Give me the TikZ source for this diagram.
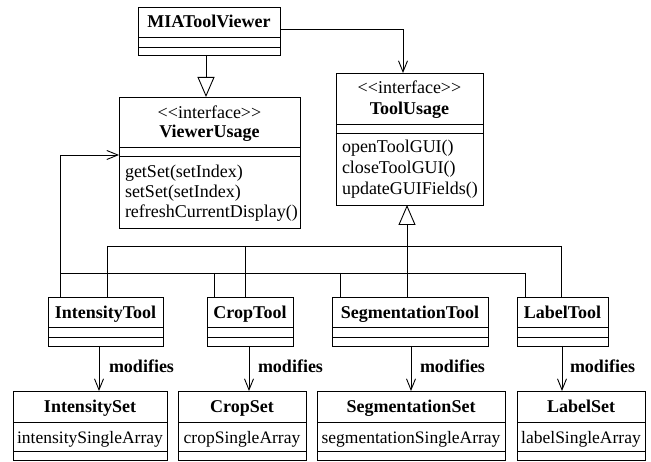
\documentclass[tikz,border=0pt]{standalone}
\usepackage{fontspec}
\setmainfont{Liberation Serif}
\usetikzlibrary{arrows.meta,calc}
\newcommand\classseps[3]{%
  \draw ($(#1.north west)+(0,#2)$) -- ($(#1.north east)+(0,#2)$);
  \draw ($(#1.north west)+(0,#3)$) -- ($(#1.north east)+(0,#3)$);}
\newcommand\stereo{<\kern0pt<interface>\kern0pt>}
\begin{document}
\begin{tikzpicture}[x=1pt,y=-1pt,line width=0.9pt,
  cls/.style={draw,rectangle,inner sep=0pt,outer sep=0pt,anchor=north west},
  txt/.style={inner sep=0pt,outer sep=0pt,anchor=base,font=\fontsize{18}{21}\selectfont},
  btxt/.style={txt,font=\fontsize{18}{21}\selectfont\bfseries},
  mtxt/.style={txt,anchor=base west},
  atxt/.style={txt,font=\fontsize{17.5}{21}\selectfont},
  gen/.style={-{Triangle[open,length=20pt,width=17pt]}},
  assoc/.style={-{Straight Barb[length=11pt,width=9pt]}}]
\useasboundingbox (0,0) rectangle (651,462);

% ---------- top classes ----------
\node[cls,minimum width=142pt,minimum height=48pt] (mia) at (138,7) {};
\classseps{mia}{30}{40}
\node[btxt] (miaN) at ($(mia.north)+(0,21)$) {MIAToolViewer};

\node[cls,minimum width=181pt,minimum height=131pt] (vu) at (119,97) {};
\classseps{vu}{50}{59}
\node[txt] (vuS) at ($(vu.north)+(0,22)$) {\stereo};
\node[btxt] (vuN) at ($(vu.north)+(0,41)$) {ViewerUsage};
\node[mtxt] (vuM1) at ($(vu.north west)+(6,81)$) {getSet(setIndex)};
\node[mtxt] (vuM2) at ($(vu.north west)+(6,101)$) {setSet(setIndex)};
\node[mtxt] (vuM3) at ($(vu.north west)+(6,121)$) {refreshCurrentDisplay()};

\node[cls,minimum width=147pt,minimum height=132pt] (tu) at (336,73) {};
\classseps{tu}{51}{60}
\node[txt] (tuS) at ($(tu.north)+(0,21)$) {\stereo};
\node[btxt] (tuN) at ($(tu.north)+(0,42)$) {ToolUsage};
\node[mtxt] (tuM1) at ($(tu.north west)+(6,80)$) {openToolGUI()};
\node[mtxt] (tuM2) at ($(tu.north west)+(6,101)$) {closeToolGUI()};
\node[mtxt] (tuM3) at ($(tu.north west)+(6,122)$) {updateGUIFields()};

% ---------- tools ----------
\node[cls,minimum width=115pt,minimum height=49pt] (it) at (48,297) {};
\node[cls,minimum width=86pt,minimum height=49pt] (ct) at (207,297) {};
\node[cls,minimum width=156pt,minimum height=49pt] (st) at (332,297) {};
\node[cls,minimum width=91pt,minimum height=49pt] (lt) at (517,297) {};
\classseps{it}{30}{40}
\classseps{ct}{30}{40}
\classseps{st}{30}{40}
\classseps{lt}{30}{40}
\node[btxt] (itN) at ($(it.north)+(0,22)$) {IntensityTool};
\node[btxt] (ctN) at ($(ct.north)+(0,22)$) {CropTool};
\node[btxt] (stN) at ($(st.north)+(0,22)$) {SegmentationTool};
\node[btxt] (ltN) at ($(lt.north)+(0,22)$) {LabelTool};

% ---------- sets ----------
\node[cls,minimum width=154pt,minimum height=69pt] (is) at (13,391) {};
\node[cls,minimum width=128pt,minimum height=69pt] (cs) at (178,391) {};
\node[cls,minimum width=188pt,minimum height=69pt] (ss) at (317,391) {};
\node[cls,minimum width=128pt,minimum height=69pt] (ls) at (517,391) {};
\classseps{is}{31}{60}
\classseps{cs}{31}{60}
\classseps{ss}{31}{60}
\classseps{ls}{31}{60}
\node[btxt] (isN) at ($(is.north)+(0,22)$) {IntensitySet};
\node[btxt] (csN) at ($(cs.north)+(0,22)$) {CropSet};
\node[btxt] (ssN) at ($(ss.north)+(0,22)$) {SegmentationSet};
\node[btxt] (lsN) at ($(ls.north)+(0,22)$) {LabelSet};
\node[atxt] (isA) at ($(is.north)+(0,52)$) {intensitySingleArray};
\node[atxt] (csA) at ($(cs.north)+(0,52)$) {cropSingleArray};
\node[atxt] (ssA) at ($(ss.north)+(0,52)$) {segmentationSingleArray};
\node[atxt] (lsA) at ($(ls.north)+(0,52)$) {labelSingleArray};

% ---------- connectors ----------
\coordinate (xg) at (206,0);
\draw[gen] (xg |- mia.south) -- (xg |- vu.north);

\coordinate (xa) at (403,29);
\draw[assoc] (mia.east |- xa) -- (xa) -- (xa |- tu.north);

% dependency bus to ViewerUsage
\coordinate (xd) at (60,155);
\draw[assoc] (xd |- it.north) -- (xd) -- (vu.west |- xd);
\coordinate (bB1) at (60,273);
\coordinate (bB2) at (525,273);
\coordinate (xc) at (214,0);
\coordinate (xs) at (340,0);
\draw (bB1) -- (bB2);
\draw (xc |- bB1) -- (xc |- ct.north);
\draw (xs |- bB1) -- (xs |- st.north);
\draw (bB2) -- (bB2 |- lt.north);

% realization bus to ToolUsage
\coordinate (bA1) at (107,246);
\coordinate (bA2) at (561,246);
\coordinate (xc2) at (245,0);
\coordinate (xt) at (407,0);
\draw (bA1) -- (bA2);
\draw (bA1) -- (bA1 |- it.north);
\draw (xc2 |- bA1) -- (xc2 |- ct.north);
\draw (bA2) -- (bA2 |- lt.north);
\draw[gen] (xt |- st.north) -- (xt |- tu.south);

% modifies
\coordinate (m1) at (99,0);
\coordinate (m2) at (249,0);
\coordinate (m3) at (411,0);
\coordinate (m4) at (562,0);
\draw[assoc] (m1 |- it.south) -- (m1 |- is.north);
\draw[assoc] (m2 |- ct.south) -- (m2 |- cs.north);
\draw[assoc] (m3 |- st.south) -- (m3 |- ss.north);
\draw[assoc] (m4 |- lt.south) -- (m4 |- ls.north);
\node[btxt,anchor=base west] (mod1) at ($(m1 |- it.south)+(10,27)$) {modifies};
\node[btxt,anchor=base west] (mod2) at ($(m2 |- ct.south)+(9,27)$) {modifies};
\node[btxt,anchor=base west] (mod3) at ($(m3 |- st.south)+(9,27)$) {modifies};
\node[btxt,anchor=base west] (mod4) at ($(m4 |- lt.south)+(8,27)$) {modifies};
\end{tikzpicture}
\end{document}
